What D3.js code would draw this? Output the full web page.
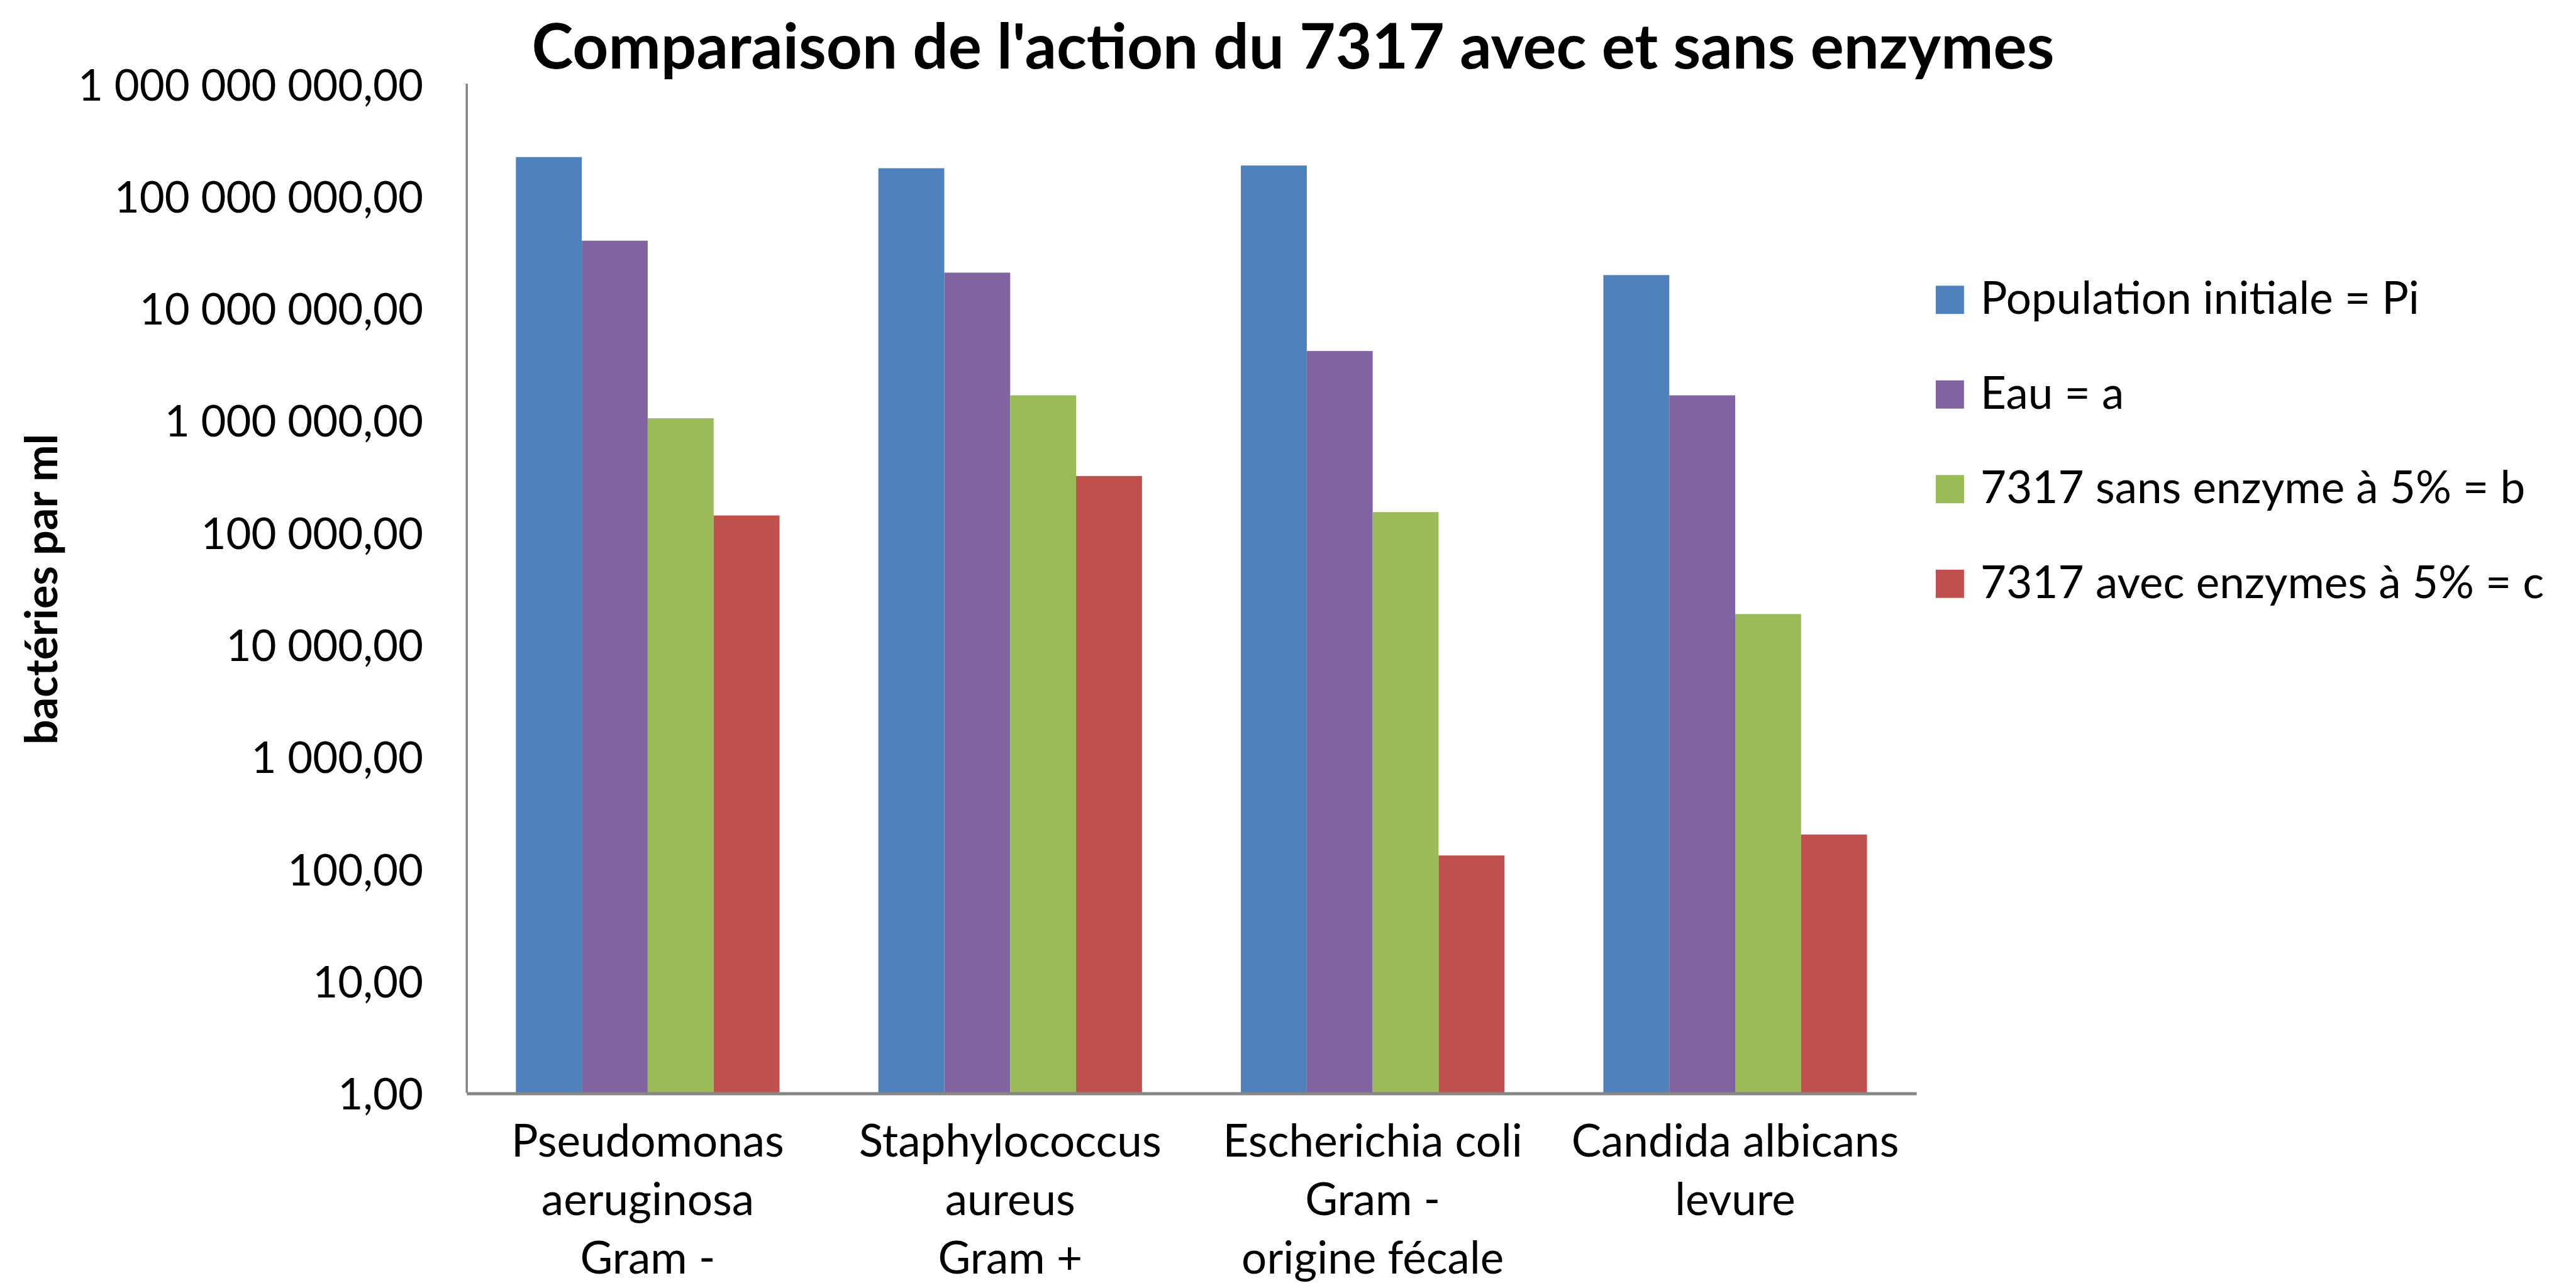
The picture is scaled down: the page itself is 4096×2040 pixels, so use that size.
<!DOCTYPE html>
<html>
<head>
<meta charset="utf-8">
<script src="https://cdnjs.cloudflare.com/ajax/libs/d3/7.8.5/d3.min.js"></script>
<style>
  body { margin: 0; background: #ffffff; }
  text { font-family: Lato, "Open Sans", sans-serif; }
</style>
</head>
<body>
<div id="wrapper"></div>
<script>
// data (bactéries par ml, log axis)
const categoryLabels = [
  ["Pseudomonas", "aeruginosa", "Gram -"],
  ["Staphylococcus", "aureus", "Gram +"],
  ["Escherichia coli", "Gram -", "origine fécale"],
  ["Candida albicans", "levure"]
]
const seriesNames = [
  "Population initiale = Pi",
  "Eau = a",
  "7317 sans enzyme à 5% = b",
  "7317 avec enzymes à 5% = c"
]
const seriesColors = ["#4f81bd", "#8064a2", "#9bbb59", "#c0504d"]

const populationInitiale = [2.2e8, 1.75e8, 1.85e8, 1.95e7]
const eau = [3.95e7, 2.05e7, 4.1e6, 1.65e6]
const sansEnzyme = [1.03e6, 1.65e6, 1.5e5, 1.85e4]
const avecEnzymes = [1.4e5, 3.15e5, 130, 200]

const yTickValues = [1, 10, 100, 1e3, 1e4, 1e5, 1e6, 1e7, 1e8, 1e9]

const chartTitle = "Comparaison de l'action du 7317 avec et sans enzymes"
const yAxisTitle = "bactéries par ml"

function drawChart() {

  // 1. Data

  const seriesValues = [populationInitiale, eau, sansEnzyme, avecEnzymes]
  const categoryIds = d3.range(categoryLabels.length)
  const seriesIds = d3.range(seriesNames.length)

  const rows = categoryIds.map(c => seriesIds.map(s => ({
    category: c,
    series: s,
    value: seriesValues[s][c]
  })))

  // 2. Dimensions (reference drawn at 0.701)

  let dimensions = {
    width: 4096,
    height: 2040,
    margin: {
      top: 132.5,
      right: 1048.8,
      bottom: 302.9,
      left: 741.7
    }
  }
  dimensions.boundedWidth = dimensions.width -
    dimensions.margin.left - dimensions.margin.right
  dimensions.boundedHeight = dimensions.height -
    dimensions.margin.top - dimensions.margin.bottom

  const tickSize = 69
  const labelSize = 71
  const axisGrey = "#868686"

  // 3. Canvas

  const wrapper = d3.select("#wrapper")
    .append("svg")
    .attr("width", dimensions.width)
    .attr("height", dimensions.height)
    .style("display", "block")

  wrapper.append("rect")
    .attr("width", dimensions.width)
    .attr("height", dimensions.height)
    .attr("fill", "#ffffff")

  const bounds = wrapper.append("g")
    .attr("transform", `translate(${dimensions.margin.left}, ${dimensions.margin.top})`)

  // 4. Scales

  const xScale = d3.scaleBand()
    .domain(categoryIds)
    .range([0, dimensions.boundedWidth])

  // excel gap width 150% -> 0.75 bar on each side of a group
  const seriesScale = d3.scaleBand()
    .domain(seriesIds)
    .range([0, xScale.bandwidth()])
    .paddingInner(0)
    .paddingOuter(0.75)

  const yScale = d3.scaleLog()
    .domain([1, 1e9])
    .range([dimensions.boundedHeight, 0])

  // 5. Bars

  const groups = bounds.append("g")
    .selectAll("g")
    .data(rows)
    .join("g")
    .attr("transform", (d, i) => `translate(${xScale(i)}, 0)`)

  groups.selectAll("rect")
    .data(d => d)
    .join("rect")
    .attr("x", d => seriesScale(d.series))
    .attr("y", d => yScale(d.value))
    .attr("width", seriesScale.bandwidth())
    .attr("height", d => dimensions.boundedHeight - yScale(d.value))
    .attr("fill", d => seriesColors[d.series])

  // 6. Axes

  const frLocale = d3.formatLocale({
    decimal: ",",
    thousands: " ",
    grouping: [3],
    currency: ["", " €"]
  })
  const tickFormat = frLocale.format(",.2f")

  const yAxisGenerator = d3.axisLeft(yScale)
    .tickValues(yTickValues)
    .tickFormat(tickFormat)
    .tickSize(0)
    .tickPadding(68.7)

  const yAxis = bounds.append("g")
    .call(yAxisGenerator)

  yAxis.select(".domain")
    .attr("stroke", axisGrey)
    .attr("stroke-width", 3.5)

  yAxis.selectAll(".tick text")
    .attr("dy", null)
    .attr("dominant-baseline", "central")
    .style("font-size", `${tickSize}px`)
    .style("fill", "#000000")

  const xAxisGenerator = d3.axisBottom(xScale)
    .tickSize(0)
    .tickFormat("")

  const xAxis = bounds.append("g")
    .attr("transform", `translate(0, ${dimensions.boundedHeight + 1.5})`)
    .call(xAxisGenerator)

  xAxis.select(".domain")
    .attr("stroke", axisGrey)
    .attr("stroke-width", 5)

  xAxis.selectAll(".tick text").remove()

  const lineHeight = 93
  xAxis.selectAll(".tick")
    .append("text")
    .attr("text-anchor", "middle")
    .style("font-size", `${labelSize}px`)
    .style("fill", "#000000")
    .selectAll("tspan")
    .data(d => categoryLabels[d])
    .join("tspan")
    .attr("x", 0)
    .attr("y", (d, i) => 100.8 + i * lineHeight)
    .text(d => d)

  // y axis title, rotated
  wrapper.append("text")
    .attr("transform", "translate(91, 937) rotate(-90)")
    .attr("text-anchor", "middle")
    .style("font-size", "70px")
    .style("font-weight", "bold")
    .text(yAxisTitle)

  // 7. Title

  wrapper.append("text")
    .attr("x", 2056)
    .attr("y", 109.4)
    .attr("text-anchor", "middle")
    .style("font-size", "99.5px")
    .style("font-weight", "bold")
    .text(chartTitle)

  // 8. Legend

  const legend = wrapper.append("g")
    .attr("transform", "translate(3078, 476.7)")

  const legendItems = legend.selectAll("g")
    .data(seriesIds)
    .join("g")
    .attr("transform", d => `translate(0, ${d * 150.5})`)

  legendItems.append("rect")
    .attr("x", 0)
    .attr("y", -22.4)
    .attr("width", 44.9)
    .attr("height", 44.9)
    .attr("fill", d => seriesColors[d])

  legendItems.append("text")
    .attr("x", 71)
    .attr("y", 22.4)
    .style("font-size", `${labelSize}px`)
    .style("fill", "#000000")
    .text(d => seriesNames[d])
}

drawChart()
</script>
</body>
</html>
